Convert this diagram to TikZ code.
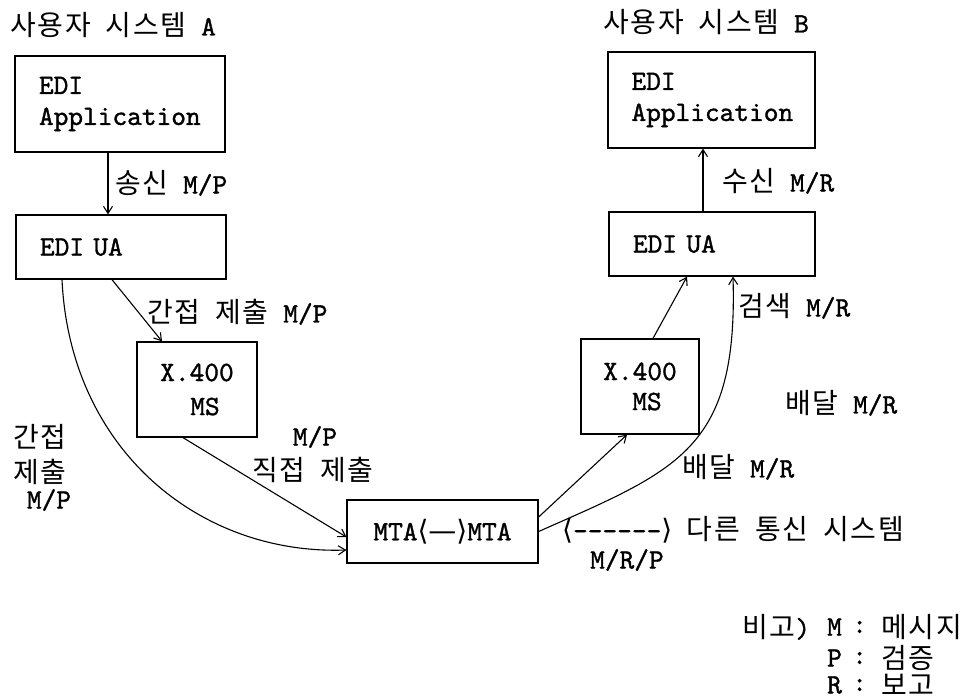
\documentclass[tikz,border=0pt]{standalone}
\usepackage{fontspec}
\setmonofont{lmmono10-regular.otf}[FakeBold=1.2]
\newfontfamily\kr[LetterSpace=6]{Noto Sans CJK KR}
\newfontfamily\dv{DejaVu Sans}
\newcommand\K[1]{{\kr\spaceskip=15pt\relax #1}}
\usetikzlibrary{arrows.meta}
\begin{document}
\begin{tikzpicture}[x=1pt,y=-1pt,
  box/.style={draw,line width=1.3pt,inner sep=0pt},
  lbl/.style={inner sep=0pt},
  arr/.style={line width=1.1pt,-{Straight Barb[length=7pt,width=9pt]}},
  every node/.style={font=\fontsize{28}{31}\selectfont\ttfamily}]
\useasboundingbox (0,0) rectangle (975,699);
% titles
\node[lbl,anchor=west] (titleA) at (10,25) {\K{사용자 시스템} A};
\node[lbl,anchor=west] (titleB) at (603,22) {\K{사용자 시스템} B};
% boxes
\node[box,minimum width=210pt,minimum height=96pt,text width=162pt,align=left] (appA) at (120,104) {EDI\\Application};
\node[box,minimum width=210pt,minimum height=64pt,text width=162pt,align=left] (uaA) at (121,247) {EDI UA};
\node[box,minimum width=120pt,minimum height=95pt,align=center,font=\fontsize{28}{34}\selectfont\ttfamily] (msA) at (197,389.5) {X.400\\\hspace*{16pt}MS};
\node[box,minimum width=191pt,minimum height=63pt] (mta) at (442.5,531.5) {MTA{\dv ⟨—⟩}MTA};
\node[box,minimum width=118pt,minimum height=95pt,align=center,font=\fontsize{28}{30}\selectfont\ttfamily] (msB) at (640,386.5) {X.400\\\hspace*{14pt}MS};
\node[box,minimum width=207pt,minimum height=96pt,text width=160pt,align=left] (appB) at (711.5,100) {EDI\\Application};
\node[box,minimum width=206pt,minimum height=64pt,text width=158pt,align=left] (uaB) at (712,244) {EDI UA};
% connectors
\draw[arr] ([xshift=-12pt]appA.south) -- ([xshift=-13pt]uaA.north);
\draw[arr] ([xshift=-9pt]uaA.south) -- ([xshift=-35pt]msA.north);
\draw[arr] ([xshift=-59pt]uaA.south) .. controls +(8,170) and +(-147,5) .. ([yshift=-18.5pt]mta.west);
\draw[arr] ([xshift=-14pt]msA.south) -- ([yshift=-5.5pt]mta.west);
\draw[arr] ([yshift=14.5pt]mta.east) -- ([xshift=-13pt]msB.south);
\draw[arr] (mta.east) .. controls +(140,-62) and +(5,173) .. ([xshift=21pt]uaB.south);
\draw[arr] ([xshift=13pt]msB.north) -- ([xshift=-25pt]uaB.south);
\draw[arr] ([xshift=-9pt]uaB.north) -- ([xshift=-8.5pt]appB.south);
% labels
\node[lbl,anchor=west] (l1) at (115,183) {\K{송신} M/P};
\node[lbl,anchor=west] (l2) at (147,312) {\K{간접 제출} M/P};
\node[lbl] (l3) at (315,437) {M/P};
\node[lbl,anchor=west] (l4) at (252,470) {\K{직접 제출}};
\node[lbl] (l5a) at (40,437) {\K{간접}};
\node[lbl] (l5b) at (40,472) {\K{제출}};
\node[lbl] (l5c) at (49,500) {M/P};
\node[lbl,anchor=west] (r1) at (722,181) {\K{수신} M/R};
\node[lbl,anchor=west] (r2) at (738,306) {\K{검색} M/R};
\node[lbl,anchor=west] (r3) at (785,403) {\K{배달} M/R};
\node[lbl,anchor=west] (r4) at (682,467) {\K{배달} M/R};
\node[lbl,anchor=west] (r5) at (562,530) {{\dv ⟨}-{}-{}-{}-{}-{}-{\dv ⟩} \K{다른 통신 시스템}};
\node[lbl,anchor=west] (r6) at (590,560) {M/R/P};
% legend
\node[lbl,anchor=west] (g0) at (742,627) {\K{비고})};
\node[lbl,anchor=west] (g1) at (827,627) {M};
\node[lbl,anchor=west] (g2) at (827,658) {P};
\node[lbl,anchor=west] (g3) at (827,685) {R};
\node[lbl,anchor=west] (c1) at (852,627) {:};
\node[lbl,anchor=west] (c2) at (852,658) {:};
\node[lbl,anchor=west] (c3) at (852,685) {:};
\node[lbl,anchor=west] (k1) at (881,627) {\K{메시지}};
\node[lbl,anchor=west] (k2) at (881,658) {\K{검증}};
\node[lbl,anchor=west] (k3) at (881,685) {\K{보고}};
\end{tikzpicture}
\end{document}
